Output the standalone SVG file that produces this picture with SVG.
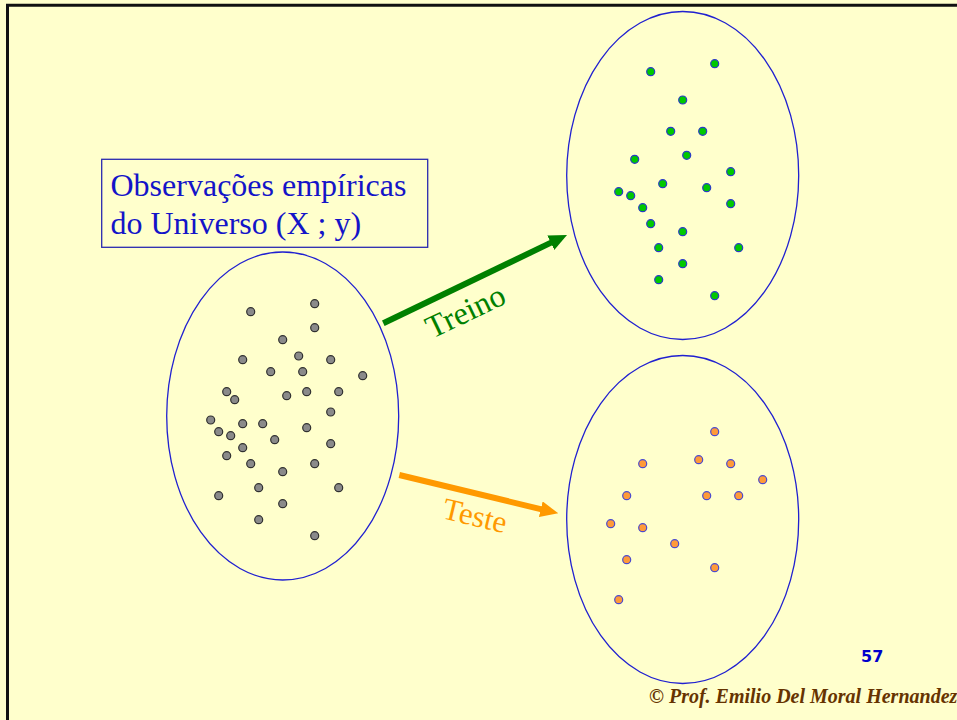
<svg xmlns="http://www.w3.org/2000/svg" width="957" height="720" viewBox="0 0 957 720">
<style>
.ell{fill:none;stroke:#2020d0;stroke-width:1.3}
.g{fill:#8a8a8a;stroke:#303030;stroke-width:1.2}
.gr{fill:#00c800;stroke:#2a3ac8;stroke-width:1.2}
.or{fill:#ff9a38;stroke:#4a4ad0;stroke-width:1.2}
.lbl{font-family:"Liberation Serif","Times New Roman",serif;font-size:32px;fill:#1414c8}
</style>
<defs>
<marker id="hg" markerUnits="userSpaceOnUse" markerWidth="18" markerHeight="16" refX="2" refY="8" orient="auto"><path d="M0,0 L18,8 L0,16 z" fill="#008000"/></marker>
<marker id="ho" markerUnits="userSpaceOnUse" markerWidth="18" markerHeight="16" refX="2" refY="8" orient="auto"><path d="M0,0 L18,8 L0,16 z" fill="#ff9900"/></marker>
</defs>
<rect x="0" y="0" width="957" height="720" fill="#ffffcc"/>
<line x1="6" y1="5.3" x2="957" y2="5.3" stroke="#111" stroke-width="3"/>
<line x1="7.5" y1="4" x2="7.5" y2="720" stroke="#111" stroke-width="3"/>

<g id="universo">
<ellipse class="ell" cx="282.7" cy="416" rx="116" ry="164"/>
<g>
<circle class="g" cx="250.7" cy="311.7" r="4"/><circle class="g" cx="314.7" cy="303.7" r="4"/><circle class="g" cx="314.7" cy="327.7" r="4"/><circle class="g" cx="282.7" cy="339.7" r="4"/><circle class="g" cx="242.7" cy="359.7" r="4"/><circle class="g" cx="298.7" cy="356" r="4"/><circle class="g" cx="330.7" cy="359.7" r="4"/><circle class="g" cx="270.7" cy="371.7" r="4"/><circle class="g" cx="302.7" cy="371.7" r="4"/><circle class="g" cx="362.7" cy="375.7" r="4"/><circle class="g" cx="226.7" cy="391.7" r="4"/><circle class="g" cx="234.7" cy="399.7" r="4"/><circle class="g" cx="286.7" cy="395.7" r="4"/><circle class="g" cx="306.7" cy="391.7" r="4"/><circle class="g" cx="338.7" cy="391.7" r="4"/><circle class="g" cx="330.7" cy="412" r="4"/><circle class="g" cx="210.7" cy="420" r="4"/><circle class="g" cx="242.7" cy="423.7" r="4"/><circle class="g" cx="262.7" cy="423.7" r="4"/><circle class="g" cx="306.7" cy="427.7" r="4"/><circle class="g" cx="218.7" cy="431.7" r="4"/><circle class="g" cx="230.7" cy="435.7" r="4"/><circle class="g" cx="274.7" cy="439.7" r="4"/><circle class="g" cx="330.7" cy="443.7" r="4"/><circle class="g" cx="242.7" cy="447.7" r="4"/><circle class="g" cx="226.7" cy="455.7" r="4"/><circle class="g" cx="250.7" cy="463.7" r="4"/><circle class="g" cx="314.7" cy="463.7" r="4"/><circle class="g" cx="282.7" cy="471.7" r="4"/><circle class="g" cx="258.7" cy="487.7" r="4"/><circle class="g" cx="338.7" cy="487.7" r="4"/><circle class="g" cx="218.7" cy="495.7" r="4"/><circle class="g" cx="282.7" cy="503.7" r="4"/><circle class="g" cx="258.7" cy="519.7" r="4"/><circle class="g" cx="314.7" cy="535.7" r="4"/>
</g>
</g>

<g id="label">
<rect x="101.7" y="159.3" width="326" height="88" fill="#ffffcc" stroke="#2a2ab0" stroke-width="1.3"/>
<text class="lbl" x="110.5" y="195.5">Observações empíricas</text>
<text class="lbl" x="110.5" y="233.5">do Universo (X ; y)</text>
</g>

<g id="treino">
<ellipse class="ell" cx="682.7" cy="175.5" rx="116" ry="164"/>
<circle class="gr" cx="650.7" cy="71.7" r="4"/><circle class="gr" cx="714.7" cy="63.7" r="4"/><circle class="gr" cx="682.7" cy="100" r="4"/><circle class="gr" cx="670.7" cy="131.3" r="4"/><circle class="gr" cx="702.7" cy="131.3" r="4"/><circle class="gr" cx="634.7" cy="159.3" r="4"/><circle class="gr" cx="686.7" cy="155.3" r="4"/><circle class="gr" cx="730.7" cy="171.7" r="4"/><circle class="gr" cx="662.7" cy="183.7" r="4"/><circle class="gr" cx="706.7" cy="187.7" r="4"/><circle class="gr" cx="618.7" cy="191.7" r="4"/><circle class="gr" cx="630.7" cy="195.7" r="4"/><circle class="gr" cx="730.7" cy="203.7" r="4"/><circle class="gr" cx="642.7" cy="207.7" r="4"/><circle class="gr" cx="650.7" cy="223.7" r="4"/><circle class="gr" cx="682.7" cy="231.7" r="4"/><circle class="gr" cx="658.7" cy="247.7" r="4"/><circle class="gr" cx="738.7" cy="247.7" r="4"/><circle class="gr" cx="682.7" cy="263.7" r="4"/><circle class="gr" cx="658.7" cy="279.7" r="4"/><circle class="gr" cx="714.7" cy="295.7" r="4"/>
</g>

<g id="teste">
<ellipse class="ell" cx="682.7" cy="519.5" rx="116" ry="164"/>
<circle class="or" cx="714.7" cy="431.7" r="4"/><circle class="or" cx="642.7" cy="463.7" r="4"/><circle class="or" cx="698.7" cy="459.7" r="4"/><circle class="or" cx="730.7" cy="463.7" r="4"/><circle class="or" cx="762.7" cy="479.7" r="4"/><circle class="or" cx="626.7" cy="495.7" r="4"/><circle class="or" cx="706.7" cy="495.7" r="4"/><circle class="or" cx="738.7" cy="495.7" r="4"/><circle class="or" cx="610.7" cy="523.7" r="4"/><circle class="or" cx="642.7" cy="527.7" r="4"/><circle class="or" cx="674.7" cy="543.7" r="4"/><circle class="or" cx="626.7" cy="559.7" r="4"/><circle class="or" cx="714.7" cy="567.7" r="4"/><circle class="or" cx="618.7" cy="599.7" r="4"/>
</g>

<g id="connectors">
<line x1="383.3" y1="323.3" x2="552.6" y2="241.9" stroke="#008000" stroke-width="6" marker-end="url(#hg)"/>
<line x1="399.3" y1="475" x2="542.7" y2="509.6" stroke="#ff9900" stroke-width="6" marker-end="url(#ho)"/>
<text transform="translate(432,339) rotate(-25.6)" font-family="Liberation Serif, Times New Roman, serif" font-size="32" fill="#008000">Treino</text>
<text transform="translate(441,518) rotate(13.5)" font-family="Liberation Serif, Times New Roman, serif" font-size="31" fill="#ff9900">Teste</text>
</g>

<g id="footer">
<text x="861" y="662" font-family="DejaVu Sans, Verdana, sans-serif" font-weight="bold" font-size="16" fill="#0000cc">57</text>
<text x="649" y="703" font-family="Liberation Serif, Times New Roman, serif" font-weight="bold" font-style="italic" font-size="20" fill="#663300">© Prof. Emilio Del Moral Hernandez</text>
</g>
</svg>
